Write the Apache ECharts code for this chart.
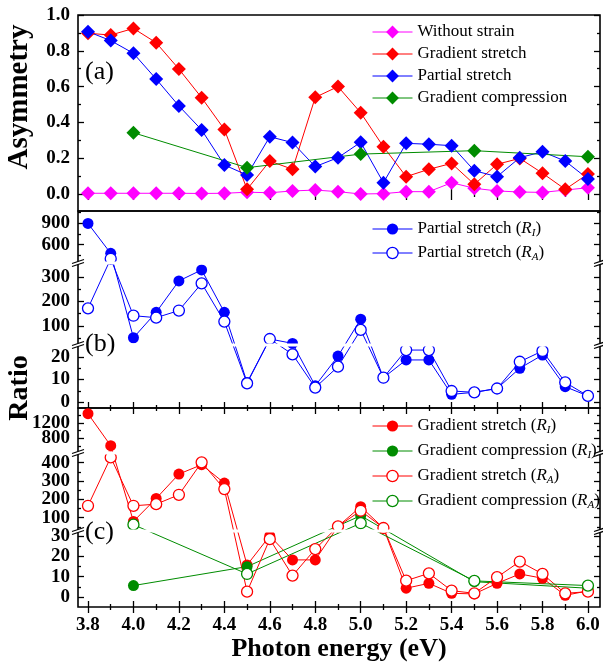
<!DOCTYPE html>
<html>
<head>
<meta charset="utf-8">
<script src="https://cdn.jsdelivr.net/npm/echarts@6/dist/echarts.min.js"></script>
<style>
  html, body { margin: 0; padding: 0; background: #fff; }
  #chart { width: 603px; height: 665px; }
</style>
</head>
<body>
<div id="chart"></div>
<script>
  // photon energies (eV)
  const energy = [3.8, 3.9, 4.0, 4.1, 4.2, 4.3, 4.4, 4.5, 4.6, 4.7, 4.8, 4.9, 5.0, 5.1, 5.2, 5.3, 5.4, 5.5, 5.6, 5.7, 5.8, 5.9, 6.0];
  const energyComp = [4.0, 4.5, 5.0, 5.5, 6.0];
  const xTicks = [3.8, 4.0, 4.2, 4.4, 4.6, 4.8, 5.0, 5.2, 5.4, 5.6, 5.8, 6.0];
  const xMinorTicks = [3.9, 4.1, 4.3, 4.5, 4.7, 4.9, 5.1, 5.3, 5.5, 5.7, 5.9];

  // (a) asymmetry
  const asymNoStrain = [0.004, 0.004, 0.004, 0.004, 0.004, 0.003, 0.004, 0.010, 0.007, 0.017, 0.022, 0.013, 0.0, 0.002, 0.013, 0.013, 0.063, 0.032, 0.017, 0.011, 0.009, 0.022, 0.035];
  const asymGradStretch = [0.898, 0.888, 0.925, 0.845, 0.698, 0.538, 0.361, 0.026, 0.184, 0.138, 0.540, 0.600, 0.454, 0.264, 0.097, 0.138, 0.171, 0.054, 0.166, 0.199, 0.116, 0.026, 0.112];
  const asymPartStretch = [0.907, 0.857, 0.786, 0.642, 0.492, 0.358, 0.162, 0.106, 0.320, 0.287, 0.153, 0.203, 0.289, 0.063, 0.283, 0.278, 0.270, 0.130, 0.097, 0.203, 0.236, 0.184, 0.084];
  const asymGradComp = [0.342, 0.147, 0.223, 0.242, 0.208];

  // (b) partial stretch ratios
  const ratioPartRI = [895, 480, 52, 156, 284, 329, 156, 8.7, 47, 29, 7.2, 20.4, 128, 10.8, 18.7, 18.7, 3.4, 4.3, 6.0, 15.0, 20.9, 6.8, 2.7];
  const ratioPartRA = [172, 405, 142, 134, 163, 274, 118, 8.3, 47, 21.2, 6.4, 15.7, 84, 10.8, 23.1, 23.1, 4.9, 4.3, 6.0, 17.9, 22.7, 8.7, 2.7];

  // (c) gradient ratios
  const ratioGradStretchRI = [1440, 613, 80, 205, 338, 389, 289, 15.7, 30, 18.2, 18.2, 53, 160, 44, 4.3, 6.7, 1.8, 1.5, 6.7, 11.3, 9.2, 0.8, 3.0];
  const ratioGradStretchRA = [165, 429, 165, 174, 225, 402, 256, 2.6, 28.4, 10.5, 23.5, 53, 138, 44, 8.0, 11.6, 3.1, 1.8, 9.7, 17.4, 11.3, 1.8, 2.6];
  const ratioGradCompRI = [5.6, 14.9, 111, 7.5, 4.3];
  const ratioGradCompRA = [62, 11.3, 70, 7.9, 5.6];

  // tick values
  const asymTicks = [0, 0.2, 0.4, 0.6, 0.8, 1.0];
  const asymMinor = [0.1, 0.3, 0.5, 0.7, 0.9];
  const ratioBTicks = [0, 10, 20, 100, 200, 300, 600, 900];
  const ratioBMinor = [5, 15, 50, 150, 250, 450, 750, 1050];
  const ratioCTicks = [0, 10, 20, 30, 100, 200, 300, 400, 800, 1200];
  const ratioCMinor = [5, 15, 25, 50, 150, 250, 350, 600, 1000, 1400];

  // broken axes: each piece maps a value range onto a stretch of the axis (axis units = panel pixels)
  const brokenB = [
    { v: [-2.67, 24.9], u: [0, 62] },
    { v: [26.5, 353], u: [64, 144] },
    { v: [360, 1068], u: [146, 197] }
  ];
  const brokenC = [
    { v: [-4.92, 31.9], u: [0, 75] },
    { v: [33, 447.5], u: [77, 153] },
    { v: [450, 1588], u: [155, 199] }
  ];

  function piecewise(pieces, val, from, to) {
    const pts = [];
    pieces.forEach(p => { pts.push([p[from][0], p[to][0]]); pts.push([p[from][1], p[to][1]]); });
    let i = 0;
    while (i < pts.length - 2 && val > pts[i + 1][0]) i++;
    const a = pts[i], b = pts[i + 1];
    return a[1] + (val - a[0]) * (b[1] - a[1]) / (b[0] - a[0]);
  }
  const toAxis = (pieces, v) => piecewise(pieces, v, 'v', 'u');
  const fromAxis = (pieces, u) => piecewise(pieces, u, 'u', 'v');

  const FONT = "'Liberation Serif', 'Times New Roman', serif";
  const X_MIN = 3.756, X_MAX = 6.053;
  const LEFT = 78, WIDTH = 522;
  const TICK = { color: '#000', width: 1.3 };
  const BLUE = '#0000ff', RED = '#ff0000', MAGENTA = '#ff00ff', GREEN = '#008c00';

  const grid = [], xAxis = [], yAxis = [], series = [], graphic = [];

  function labelStyle(fmt, margin, values) {
    return {
      show: true, margin, formatter: fmt, customValues: values, color: '#000', fontFamily: FONT, fontSize: 19, fontWeight: 'bold',
      hideOverlap: false, showMinLabel: true, showMaxLabel: true
    };
  }

  function addX(g, position, ticks, len, withLabels) {
    const ax = {
      type: 'value', gridIndex: g, position, min: X_MIN, max: X_MAX,
      axisLine: { show: false }, splitLine: { show: false },
      axisTick: { show: true, inside: true, length: len, customValues: ticks, lineStyle: TICK },
      axisLabel: withLabels ? labelStyle(v => v.toFixed(1), 9, ticks) : { show: false }
    };
    xAxis.push(ax);
    return xAxis.length - 1;
  }

  function addY(g, position, min, max, ticks, len, fmt, labelValues) {
    yAxis.push({
      type: 'value', gridIndex: g, position, min, max,
      axisLine: { show: false }, splitLine: { show: false },
      axisTick: ticks ? { show: true, inside: true, length: len, customValues: ticks, lineStyle: TICK } : { show: false },
      axisLabel: fmt ? labelStyle(fmt, 8, labelValues) : { show: false }
    });
    return yAxis.length - 1;
  }

  // one framed panel with inside ticks on all four sides
  function addPanel(top, height, bottomLabels, min, max, major, minor, fmt) {
    grid.push({ left: LEFT, top, width: WIDTH, height, show: true, borderColor: '#000', borderWidth: 1.6, backgroundColor: 'transparent' });
    const g = grid.length - 1;
    addX(g, 'top', xTicks, 6); addX(g, 'top', xMinorTicks, 3);
    const x = addX(g, 'bottom', xTicks, 6, bottomLabels); addX(g, 'bottom', xMinorTicks, 3);
    // labels split over two axes so close labels near the breaks are both kept
    const y = addY(g, 'left', min, max, major, 6, fmt, major.filter((v, i) => i % 2 === 0));
    addY(g, 'left', min, max, null, 0, fmt, major.filter((v, i) => i % 2 === 1));
    addY(g, 'left', min, max, minor, 3);
    addY(g, 'right', min, max, major, 6);
    addY(g, 'right', min, max, minor, 3);
    return { x, y };
  }

  function addLine(name, xs, ys, ax, color, symbol, size, open, map) {
    series.push({
      type: 'line', name, xAxisIndex: ax.x, yAxisIndex: ax.y,
      data: xs.map((x, i) => [x, map ? map(ys[i]) : ys[i]]),
      symbol, symbolSize: size, showAllSymbol: true,
      lineStyle: { color, width: 1 },
      itemStyle: open ? { color: '#fff', borderColor: color, borderWidth: 1.3 } : { color },
      emphasis: { disabled: true }
    });
  }

  // ---- panel (a)
  const axA = addPanel(15, 196, false, -0.095, 1.0, asymTicks, asymMinor, v => v.toFixed(1));
  addLine('Without strain', energy, asymNoStrain, axA, MAGENTA, 'diamond', 14);
  addLine('Gradient stretch', energy, asymGradStretch, axA, RED, 'diamond', 14);
  addLine('Partial stretch', energy, asymPartStretch, axA, BLUE, 'diamond', 14);
  addLine('Gradient compression', energyComp, asymGradComp, axA, GREEN, 'diamond', 14);

  // ---- panel (b)
  const mapB = v => toAxis(brokenB, v);
  const axB = addPanel(211, 197, false, 0, 197, ratioBTicks.map(mapB), ratioBMinor.map(mapB),
    u => String(Math.round(fromAxis(brokenB, u))));
  addLine('Partial stretch (R_I)', energy, ratioPartRI, axB, BLUE, 'circle', 11, false, mapB);
  addLine('Partial stretch (R_A)', energy, ratioPartRA, axB, BLUE, 'circle', 11, true, mapB);

  // ---- panel (c)
  const mapC = v => toAxis(brokenC, v);
  const axC = addPanel(408, 199, true, 0, 199, ratioCTicks.map(mapC), ratioCMinor.map(mapC),
    u => String(Math.round(fromAxis(brokenC, u))));
  addLine('Gradient stretch (R_I)', energy, ratioGradStretchRI, axC, RED, 'circle', 11, false, mapC);
  addLine('Gradient compression (R_I)', energyComp, ratioGradCompRI, axC, GREEN, 'circle', 11, false, mapC);
  addLine('Gradient stretch (R_A)', energy, ratioGradStretchRA, axC, RED, 'circle', 11, true, mapC);
  addLine('Gradient compression (R_A)', energyComp, ratioGradCompRA, axC, GREEN, 'circle', 11, true, mapC);

  // white gaps across the plot and break marks on both vertical axes
  const breaks = [
    [408, brokenB[0].u[1], brokenB[1].u[0]], [408, brokenB[1].u[1], brokenB[2].u[0]],
    [607, brokenC[0].u[1], brokenC[1].u[0]], [607, brokenC[1].u[1], brokenC[2].u[0]]
  ];
  breaks.forEach(b => {
    const yTop = b[0] - b[2], yBot = b[0] - b[1], y = (yTop + yBot) / 2;
    graphic.push({ type: 'rect', z: 50, shape: { x: LEFT + 1, y: yTop - 0.5, width: WIDTH - 2, height: yBot - yTop + 1 }, style: { fill: '#fff' } });
    [LEFT, LEFT + WIDTH].forEach(x => {
      graphic.push({ type: 'polygon', z: 100, shape: { points: [[x - 6, y + 0.5], [x + 6, y - 3.5], [x + 6, y - 0.5], [x - 6, y + 3.5]] }, style: { fill: '#fff' } });
      graphic.push({ type: 'line', z: 101, shape: { x1: x - 6, y1: y + 0.5, x2: x + 6, y2: y - 3.5 }, style: { stroke: '#000', lineWidth: 1.2 } });
      graphic.push({ type: 'line', z: 101, shape: { x1: x - 6, y1: y + 3.5, x2: x + 6, y2: y - 0.5 }, style: { stroke: '#000', lineWidth: 1.2 } });
    });
  });

  // panel letters and axis titles
  [['(a)', 72], ['(b)', 344], ['(c)', 532]].forEach(p => {
    graphic.push({ type: 'text', z: 100, x: 85, y: p[1], style: { text: p[0], font: '26px ' + FONT, fill: '#000', align: 'left', verticalAlign: 'middle' } });
  });
  graphic.push({ type: 'text', z: 100, x: 20, y: 97, rotation: Math.PI / 2, style: { text: 'Asymmetry', font: 'bold 29px ' + FONT, fill: '#000', align: 'center', verticalAlign: 'middle' } });
  graphic.push({ type: 'text', z: 100, x: 20, y: 388, rotation: Math.PI / 2, style: { text: 'Ratio', font: 'bold 28px ' + FONT, fill: '#000', align: 'center', verticalAlign: 'middle' } });
  graphic.push({ type: 'text', z: 100, x: 339, y: 649, style: { text: 'Photon energy (eV)', font: 'bold 26px ' + FONT, fill: '#000', align: 'center', verticalAlign: 'middle' } });

  const richSub = {
    r: { fontStyle: 'italic', fontSize: 17, fontFamily: FONT, color: '#000' },
    s: { fontStyle: 'italic', fontSize: 11, fontFamily: FONT, color: '#000', lineHeight: 10, verticalAlign: 'bottom' }
  };
  function legendBox(names, top, itemHeight, gap) {
    return {
      data: names, orient: 'vertical', left: 372, top, padding: 0, z: 120,
      itemWidth: 40, itemHeight, itemGap: gap, selectedMode: false,
      lineStyle: { width: 1 }, itemStyle: { borderWidth: 1.3 },
      formatter: name => name.replace(/\(R_(\w)\)/, '({r|R}{s|$1})'),
      textStyle: { fontFamily: FONT, fontSize: 17, color: '#000', lineHeight: 20, rich: richSub }
    };
  }

  const chart = echarts.init(document.getElementById('chart'));
  chart.setOption({
    backgroundColor: '#fff',
    animation: false,
    grid, xAxis, yAxis, series, graphic,
    legend: [
      legendBox(['Without strain', 'Gradient stretch', 'Partial stretch', 'Gradient compression'], 22, 16, 2),
      legendBox(['Partial stretch (R_I)', 'Partial stretch (R_A)'], 219, 14, 4),
      legendBox(['Gradient stretch (R_I)', 'Gradient compression (R_I)', 'Gradient stretch (R_A)', 'Gradient compression (R_A)'], 416, 14, 5)
    ]
  });
</script>
</body>
</html>
